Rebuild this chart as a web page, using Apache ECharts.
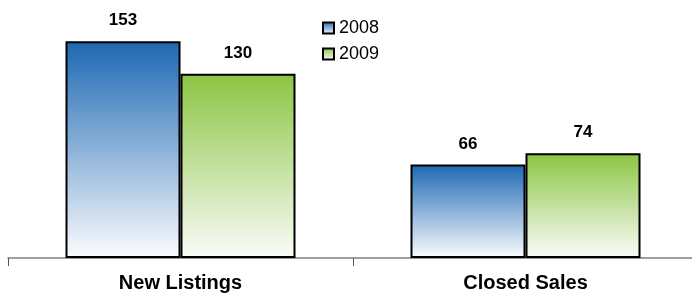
<!DOCTYPE html>
<html>
<head>
<meta charset="utf-8">
<script src="https://cdn.jsdelivr.net/npm/echarts@6/dist/echarts.min.js"></script>
<style>
  html, body { margin: 0; padding: 0; background: #fff; }
  #main { width: 692px; height: 296px; }
</style>
</head>
<body>
<div id="main"></div>
<script>
// data
const categories = ['New Listings', 'Closed Sales'];
const seriesNames = ['2008', '2009'];
const values2008 = [153, 66];
const values2009 = [130, 74];

const font = 'Arial, "Liberation Sans", sans-serif';

function grad(top, bottom) {
  return new echarts.graphic.LinearGradient(0, 0, 0, 1, [
    { offset: 0, color: top },
    { offset: 1, color: bottom }
  ]);
}

const myChart = echarts.init(document.getElementById('main'));

const barLabel = {
  show: true, position: 'top', distance: 12,
  fontFamily: font, fontSize: 17, fontWeight: 'bold', color: '#000'
};

const option = {
  animation: false,
  // plot runs off the right edge, like the original
  grid: { left: 8, width: 690, top: 3, bottom: 38, outerBoundsMode: 'none', containLabel: false },
  legend: {
    orient: 'vertical',
    left: 322,
    top: 19,
    padding: 0,
    itemWidth: 11,
    itemHeight: 11,
    itemGap: 8,
    icon: 'rect',
    textStyle: { fontFamily: font, fontSize: 18, color: '#000' },
    data: seriesNames
  },
  xAxis: {
    type: 'category',
    data: categories,
    axisLine: { lineStyle: { color: '#808080', width: 1.5 } },
    axisTick: { show: true, length: 8, lineStyle: { color: '#555' } },
    axisLabel: { fontFamily: font, fontSize: 20, fontWeight: 'bold', color: '#000', margin: 15 }
  },
  yAxis: {
    type: 'value',
    min: 0,
    max: 180,
    show: false,
    splitLine: { show: false }
  },
  series: [
    {
      name: seriesNames[0],
      type: 'bar',
      data: values2008,
      barWidth: 115,
      barGap: '0%',
      itemStyle: { color: grad('#1d68b3', '#fbfcfe'), borderColor: '#000', borderWidth: 2 },
      label: barLabel
    },
    {
      name: seriesNames[1],
      type: 'bar',
      data: values2009,
      barWidth: 115,
      barGap: '0%',
      itemStyle: { color: grad('#8bc543', '#fbfcf9'), borderColor: '#000', borderWidth: 2 },
      label: barLabel
    }
  ]
};

myChart.setOption(option);
</script>
</body>
</html>
